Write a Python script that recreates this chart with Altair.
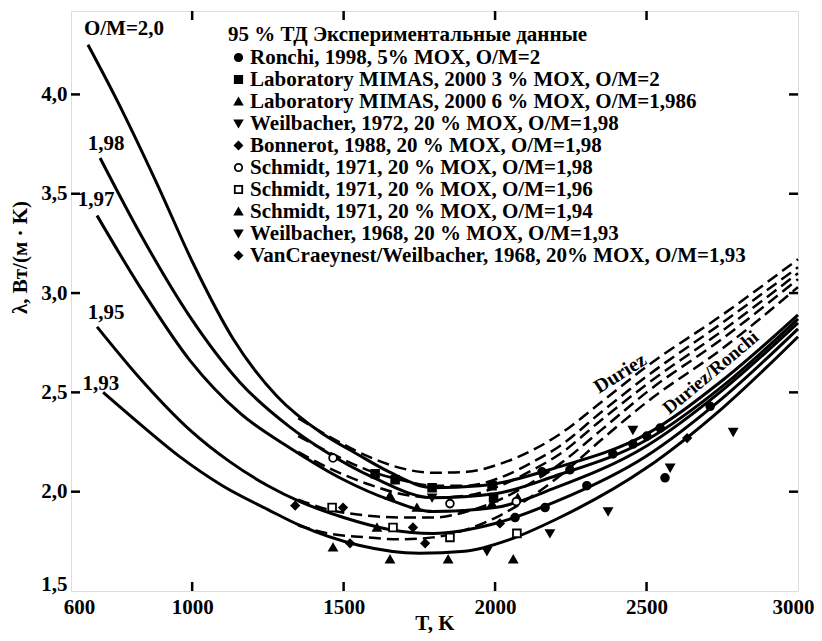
import altair as alt
import pandas as pd

# ---------------- data ----------------
# solid curves (model, labelled by O/M)
s200_T = [656, 752, 884, 1003, 1135, 1280, 1432, 1544, 1650, 1795, 1950, 2200, 2500, 2750, 3000]
s200_L = [4.25, 3.97, 3.55, 3.15, 2.77, 2.48, 2.29, 2.19, 2.10, 2.02, 2.03, 2.12, 2.29, 2.56, 2.89]
s198_T = [696, 828, 993, 1158, 1323, 1432, 1600, 1795, 2000, 2200, 2500, 2750, 3000]
s198_L = [3.68, 3.30, 2.88, 2.55, 2.325, 2.21, 2.07, 1.97, 1.99, 2.08, 2.26, 2.53, 2.87]
s197_T = [686, 828, 993, 1158, 1323, 1500, 1650, 1795, 2000, 2200, 2500, 2750, 3000]
s197_L = [3.39, 3.03, 2.66, 2.395, 2.22, 2.06, 1.96, 1.90, 1.92, 2.02, 2.23, 2.51, 2.85]
s195_T = [686, 828, 993, 1125, 1250, 1356, 1500, 1650, 1795, 2000, 2200, 2500, 2750, 3000]
s195_L = [2.83, 2.57, 2.31, 2.15, 2.03, 1.95, 1.87, 1.81, 1.79, 1.84, 1.95, 2.18, 2.47, 2.82]
s193_T = [706, 828, 960, 1100, 1250, 1356, 1550, 1750, 1900, 2050, 2200, 2500, 2750, 3000]
s193_L = [2.50, 2.34, 2.175, 2.03, 1.91, 1.83, 1.73, 1.69, 1.70, 1.76, 1.86, 2.12, 2.42, 2.78]

# dashed curves (Duriez)
d_T = [1350, 1450, 1577, 1686, 1795, 1907, 2016, 2125, 2214, 2350, 2500, 2750, 3000]
d1_L = [2.37, 2.28, 2.18, 2.12, 2.095, 2.10, 2.14, 2.21, 2.29, 2.45, 2.63, 2.89, 3.17]
d2_L = [2.28, 2.20, 2.11, 2.06, 2.03, 2.03, 2.07, 2.15, 2.23, 2.40, 2.58, 2.85, 3.13]
d3_L = [2.20, 2.12, 2.04, 1.99, 1.97, 1.98, 2.03, 2.11, 2.19, 2.36, 2.54, 2.81, 3.10]
d4_L = [1.96, 1.91, 1.88, 1.87, 1.87, 1.90, 1.96, 2.05, 2.14, 2.31, 2.50, 2.77, 3.07]
d5_L = [1.83, 1.79, 1.77, 1.76, 1.77, 1.81, 1.88, 1.98, 2.08, 2.26, 2.45, 2.72, 3.03]

# experimental data
series_names = [
    "Ronchi, 1998, 5% MOX, O/M=2",
    "Laboratory MIMAS, 2000 3 % MOX, O/M=2",
    "Laboratory MIMAS, 2000 6 % MOX, O/M=1,986",
    "Weilbacher, 1972, 20 % MOX, O/M=1,98",
    "Bonnerot, 1988, 20 % MOX, O/M=1,98",
    "Schmidt, 1971, 20 % MOX, O/M=1,98",
    "Schmidt, 1971, 20 % MOX, O/M=1,96",
    "Schmidt, 1971, 20 % MOX, O/M=1,94",
    "Weilbacher, 1968, 20 % MOX, O/M=1,93",
    "VanCraeynest/Weilbacher, 1968, 20% MOX, O/M=1,93",
]
series_shapes = ["circle", "square", "triangle-up", "triangle-down", "diamond",
                 "circle", "square", "triangle-up", "triangle-down", "diamond"]
series_fills = ["black", "black", "black", "black", "black",
                "white", "white", "black", "black", "black"]
series_strokes = ["black"] * 10

ronchi_T = [2066, 2155, 2165, 2247, 2303, 2389, 2455, 2501, 2545, 2561, 2710]
ronchi_L = [1.87, 2.10, 1.92, 2.11, 2.03, 2.19, 2.24, 2.28, 2.32, 2.07, 2.43]
mimas3_T = [1604, 1670, 1792, 1990, 1995]
mimas3_L = [2.09, 2.06, 2.02, 2.03, 1.97]
mimas6_T = [1653, 1742, 1990, 2075]
mimas6_L = [1.98, 1.92, 1.94, 1.97]
weil72_T = [1792, 2455]
weil72_L = [1.97, 2.31]
bonn_T = [1340, 1498, 2634]
bonn_L = [1.93, 1.92, 2.27]
schm198_T = [1465, 1851, 2070]
schm198_L = [2.17, 1.94, 1.95]
schm196_T = [1462, 1663, 1851, 2072]
schm196_L = [1.92, 1.82, 1.77, 1.79]
schm194_T = [1465, 1610, 1653, 1845, 2060]
schm194_L = [1.72, 1.82, 1.66, 1.66, 1.66]
weil68_T = [1973, 2181, 2373, 2578, 2786]
weil68_L = [1.70, 1.79, 1.90, 2.12, 2.30]
vanc_T = [1521, 1729, 1769, 2016]
vanc_L = [1.74, 1.82, 1.74, 1.84]

# curve labels
lab_text = ["O/M=2,0", "1,98", "1,97", "1,95", "1,93"]
lab_T = [775, 716, 683, 716, 699]
lab_L = [4.33, 3.75, 3.47, 2.90, 2.54]

x_ticks = [600, 1000, 1500, 2000, 2500, 3000]
y_ticks = [1.5, 2.0, 2.5, 3.0, 3.5, 4.0]
inner_x_ticks = [1000, 1500, 2000, 2500]
inner_y_ticks = [2.0, 2.5, 3.0, 3.5, 4.0]

# ---------------- tables ----------------
W, H = 727, 580
FONT = "Liberation Serif"

solid_rows = []
for name, Ts, Ls in [("2,0", s200_T, s200_L), ("1,98", s198_T, s198_L), ("1,97", s197_T, s197_L),
                     ("1,95", s195_T, s195_L), ("1,93", s193_T, s193_L)]:
    for t, l in zip(Ts, Ls):
        solid_rows.append({"curve": name, "T": t, "L": l})
solid_df = pd.DataFrame(solid_rows)

dash_rows = []
for name, Ls in [("d1", d1_L), ("d2", d2_L), ("d3", d3_L), ("d4", d4_L), ("d5", d5_L)]:
    for t, l in zip(d_T, Ls):
        dash_rows.append({"curve": name, "T": t, "L": l})
dash_df = pd.DataFrame(dash_rows)

pt_rows = []
for name, Ts, Ls in zip(series_names,
                        [ronchi_T, mimas3_T, mimas6_T, weil72_T, bonn_T, schm198_T, schm196_T, schm194_T, weil68_T, vanc_T],
                        [ronchi_L, mimas3_L, mimas6_L, weil72_L, bonn_L, schm198_L, schm196_L, schm194_L, weil68_L, vanc_L]):
    for t, l in zip(Ts, Ls):
        pt_rows.append({"series": name, "T": t, "L": l})
pt_df = pd.DataFrame(pt_rows)

lab_df = pd.DataFrame({"text": lab_text, "T": lab_T, "L": lab_L})

xs = alt.Scale(domain=[600, 3000], nice=False, zero=False)
ys = alt.Scale(domain=[1.5, 4.42], nice=False, zero=False)

x_axis = alt.Axis(values=x_ticks, format="d", tickSize=0, domain=False, grid=False,
                  labelFont=FONT, labelFontWeight="bold", labelFontSize=21, labelColor="black",
                  labelPadding=5, labelFlush=False,
                  labelOffset={"condition": [{"test": "datum.value == 600", "value": 8},
                                             {"test": "datum.value == 3000", "value": -5}],
                               "value": 0},
                  title="T, K", titleFont=FONT,
                  titleFontWeight="bold", titleFontSize=21, titleColor="black", titlePadding=-5)
y_axis = alt.Axis(values=y_ticks, labelExpr="replace(format(datum.value, '.1f'), '.', ',')",
                  tickSize=0, domain=False, grid=False,
                  labelFont=FONT, labelFontWeight="bold", labelFontSize=21, labelColor="black",
                  labelPadding=4,
                  labelOffset={"condition": {"test": "datum.value == 1.5", "value": -7}, "value": 0},
                  title="λ, Вт/(м · K)", titleFont=FONT, titleFontWeight="bold",
                  titleFontSize=21, titleColor="black", titleAngle=270, titleX=-51, titleY=246,
                  titleAlign="center", titleBaseline="middle")

X = alt.X("T:Q", scale=xs, title="T, K")
Y = alt.Y("L:Q", scale=ys, title="λ, Вт/(м · K)")

solid = alt.Chart(solid_df).mark_line(color="black", strokeWidth=3, interpolate="monotone").encode(
    x=alt.X("T:Q", scale=xs, axis=x_axis),
    y=alt.Y("L:Q", scale=ys, axis=y_axis),
    detail="curve:N",
)

dashed = alt.Chart(dash_df).mark_line(color="black", strokeWidth=2.5, strokeDash=[12, 6],
                                      interpolate="monotone").encode(x=X, y=Y, detail="curve:N")

legend = alt.Legend(title="95 % ТД Экспериментальные данные", orient="none", legendX=157, legendY=13,
                    titleFont=FONT, titleFontWeight="bold", titleFontSize=21, titleColor="black",
                    titleLimit=700,
                    labelFont=FONT, labelFontWeight="bold", labelFontSize=21, labelColor="black",
                    symbolSize=55, symbolStrokeColor="black", symbolStrokeWidth=1.8,
                    rowPadding=0, labelOffset=1, titlePadding=2, padding=0, labelLimit=700)

points = alt.Chart(pt_df).mark_point(size=60, strokeWidth=1.8, opacity=1).encode(
    x=X, y=Y,
    shape=alt.Shape("series:N", scale=alt.Scale(domain=series_names, range=series_shapes), legend=legend),
    fill=alt.Fill("series:N", scale=alt.Scale(domain=series_names, range=series_fills), legend=legend),
    stroke=alt.Stroke("series:N", scale=alt.Scale(domain=series_names, range=series_strokes), legend=legend),
)

labels = alt.Chart(lab_df).mark_text(font=FONT, fontWeight="bold", fontSize=21, color="black",
                                     baseline="middle").encode(x=X, y=Y, text="text:N")

duriez = alt.Chart(pd.DataFrame({"text": ["Duriez"], "T": [2413], "L": [2.595]})).mark_text(
    font=FONT, fontWeight="bold", fontSize=20, color="black", angle=328, baseline="middle").encode(
    x=X, y=Y, text="text:N")
duriez_r = alt.Chart(pd.DataFrame({"text": ["Duriez/Ronchi"], "T": [2712], "L": [2.60]})).mark_text(
    font=FONT, fontWeight="bold", fontSize=19, color="black", angle=320, baseline="middle").encode(
    x=X, y=Y, text="text:N")

xt_df = pd.DataFrame({"T": inner_x_ticks})
yt_df = pd.DataFrame({"L": inner_y_ticks})
tick_b = alt.Chart(xt_df).mark_rule(color="black", strokeWidth=2.5).encode(
    x=X, y=alt.value(H), y2=alt.value(H - 9))
tick_t = alt.Chart(xt_df).mark_rule(color="black", strokeWidth=2.5).encode(
    x=X, y=alt.value(0), y2=alt.value(9))
tick_l = alt.Chart(yt_df).mark_rule(color="black", strokeWidth=2.5).encode(
    y=Y, x=alt.value(0), x2=alt.value(9))
tick_r = alt.Chart(yt_df).mark_rule(color="black", strokeWidth=2.5).encode(
    y=Y, x=alt.value(W - 9), x2=alt.value(W))

chart = alt.layer(solid, dashed, points, labels, duriez, duriez_r, tick_b, tick_t, tick_l, tick_r).properties(
    width=W, height=H,
    padding={"left": 63, "top": 3, "right": 16, "bottom": 42},
    autosize=alt.AutoSizeParams(type="none"),
).configure_view(stroke="black", strokeWidth=3).configure(background="white")

chart.save("out.html", embed_options={"renderer": "svg", "actions": False})
